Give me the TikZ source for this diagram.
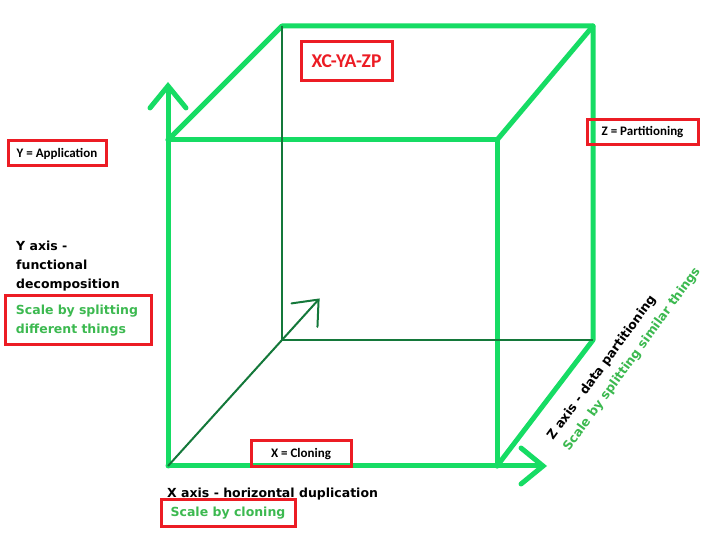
\documentclass[tikz,border=0pt]{standalone}
\usepackage{fontspec}
\setmainfont{DejaVu Sans}
\newfontfamily\calfont{Carlito}
\usetikzlibrary{arrows.meta, positioning, calc}
\definecolor{cubegreen}{RGB}{22,220,100}
\definecolor{backgreen}{RGB}{20,120,58}
\definecolor{textgreen}{RGB}{60,185,80}
\definecolor{tagred}{RGB}{236,28,36}
\begin{document}
\begin{tikzpicture}[x=1pt, y=-1pt,
    edge/.style={draw=cubegreen, line width=5pt, line cap=round, line join=round},
    hidden/.style={draw=backgreen, line width=2pt},
    axistip/.style={-{Straight Barb[length=22pt, width=36pt, line cap=round]}},
    tag/.style={draw=tagred, line width=3pt, inner sep=0pt, font=\calfont\bfseries\fontsize{13}{15}\selectfont},
    axislabel/.style={inner sep=0pt, align=left, font=\bfseries\fontsize{12.5}{19}\selectfont},
    scalelabel/.style={tag, text=textgreen, font=\bfseries\fontsize{12.5}{19}\selectfont}
]
\useasboundingbox (0,0) rectangle (713,534);

\coordinate (origin) at (168,466);
\coordinate (ftl) at (168,140);
\coordinate (ftr) at (497,140);
\coordinate (fbr) at (497,466);
\coordinate (btl) at (282,26);
\coordinate (btr) at (593,26);
\coordinate (bbl) at (282,340);
\coordinate (bbr) at (593,340);
\coordinate (ytip) at (168,82);
\coordinate (xtip) at (547,466);
\coordinate (ztip) at ($(origin)!1.33!(bbl)$);

\draw[edge, axistip] (origin) -- (ytip);
\draw[edge, axistip] (origin) -- (xtip);
\draw[edge] (ftl) -- (ftr) -- (fbr);
\draw[edge] (ftl) -- (btl) -- (btr) -- (bbr) -- (fbr);
\draw[edge] (ftr) -- (btr);

\draw[hidden] (btl) -- (bbl) -- (bbr);
\draw[hidden, -{Straight Barb[length=21pt, width=35pt, line cap=round]}] (origin) -- (ztip);

\node[tag, text=tagred, font=\calfont\bfseries\fontsize{19.5}{22}\selectfont, minimum width=91pt, minimum height=39pt] (model) at (346.5,61.5) {XC-YA-ZP};
\node[tag, minimum width=98pt, minimum height=25pt] (yapp) at (57,153.5) {Y = Application};
\node[tag, minimum width=111pt, minimum height=25pt] (zpart) at (642.5,132.5) {Z = Partitioning};
\node[tag, minimum width=100pt, minimum height=26pt] (xclone) at (301,454) {X = Cloning};

\node[axislabel, anchor=north west] (ylabel) at (16,241) {Y axis -\\functional\\decomposition};
\node[scalelabel, align=left, inner xsep=11pt, text width=124pt, minimum height=49pt] (ysplit) at (78,320.5) {Scale by splitting\\different things};

\node[axislabel, anchor=base west] (xlabel) at (167,498) {X axis - horizontal duplication};
\node[scalelabel, minimum width=134pt, minimum height=27pt] (xscale) at (228,513.5) {Scale by cloning};

\node[axislabel, anchor=base west, rotate=54] (zlabel) at (553,441) {Z axis - data partitioning};
\node[axislabel, anchor=base west, rotate=54, text=textgreen] (zscale) at (569,452) {Scale by splitting similar things};
\end{tikzpicture}
\end{document}
